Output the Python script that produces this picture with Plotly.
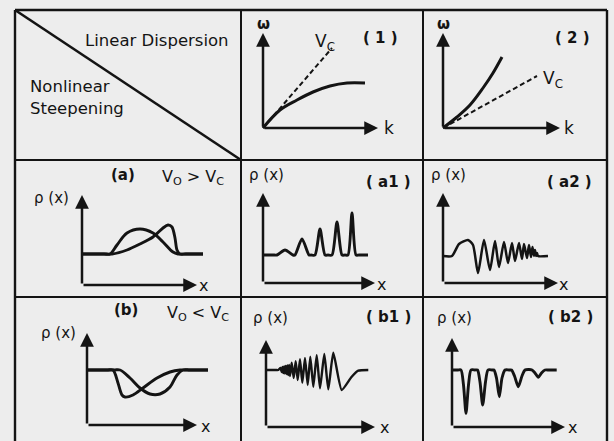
import plotly.graph_objects as go

W, H = 614, 441

# ---------------- data (arbitrary units; origin = each panel's axis corner) ----------------
# (1) dispersion curve bending below the sound-speed line
d1_k = [0, 1.7, 3.4, 5.0, 6.7, 8.4, 10.2]
d1_w = [0, 1.8, 2.8, 3.6, 4.2, 4.5, 4.5]
d1_vc_k = [0, 6.9]
d1_vc_w = [0, 8.0]
# (2) dispersion curve bending above the sound-speed line
d2_k = [0, 1.4, 2.7, 4.0, 5.0, 5.9]
d2_w = [0, 1.1, 2.3, 4.0, 5.5, 7.1]
d2_vc_k = [0, 9.4]
d2_vc_w = [0, 5.2]
# (a) initial hump and steepened hump
a_sym_x = [0, 2.2, 2.8, 3.5, 4.5, 5.8, 7.1, 8.1, 9.1, 9.6, 10.3, 12.1]
a_sym_y = [3.1, 3.1, 3.1, 4.0, 5.2, 5.6, 5.2, 4.3, 3.3, 3.1, 3.1, 3.1]
a_st_x = [0, 2.2, 3.0, 4.5, 5.8, 7.1, 8.1, 8.6, 9.0, 9.3, 9.5, 9.8, 10.4, 12.1]
a_st_y = [3.1, 3.1, 3.1, 3.5, 4.1, 4.8, 5.7, 6.0, 5.8, 4.7, 3.5, 3.1, 3.1, 3.1]
# (a1) train of solitons
a1_x = [0, 1.0, 1.4, 2.2, 3.0, 3.2, 3.9, 4.6, 4.8, 5.2, 5.7, 6.2, 6.5, 6.9, 7.4, 7.9, 8.2, 8.5, 8.9, 9.3, 9.6, 10.5]
a1_y = [2.8, 2.8, 2.8, 3.3, 2.8, 2.8, 4.4, 2.8, 2.8, 2.8, 5.4, 2.8, 2.8, 2.8, 6.1, 2.8, 2.8, 2.8, 7.0, 2.8, 2.8, 2.8]
# (a2) oscillatory (dispersive) shock
a2_x = [0, 0.9, 1.6, 2.5, 3.0, 3.5, 4.1, 4.7, 5.2, 5.6, 6.1, 6.5, 6.9, 7.2, 7.6, 7.9, 8.1, 8.4, 8.6, 8.8,
        8.95, 9.1, 9.2, 9.3, 9.4, 9.5, 10.5]
a2_y = [2.7, 2.7, 3.9, 4.3, 3.8, 1.0, 4.3, 1.3, 4.2, 1.6, 4.1, 2.0, 4.0, 2.2, 4.0, 2.4, 3.9, 2.5, 3.8, 2.6,
        3.6, 2.7, 3.3, 2.7, 3.0, 2.7, 2.7]
# (b) initial dip and steepened dip
b_st_x = [0, 2.0, 2.6, 3.1, 3.5, 3.8, 4.6, 5.6, 7.0, 8.3, 9.3, 10.0, 12.1]
b_st_y = [5.5, 5.5, 5.5, 4.2, 3.0, 2.8, 3.0, 3.7, 4.7, 5.3, 5.5, 5.5, 5.5]
b_sym_x = [0, 2.7, 3.3, 4.3, 5.3, 6.3, 7.3, 8.3, 9.0, 9.6, 10.3, 12.1]
b_sym_y = [5.5, 5.5, 5.5, 4.7, 3.7, 3.1, 3.1, 3.8, 5.0, 5.5, 5.5, 5.5]
# (b1) oscillatory shock (rarefaction side)
b1_x = [0, 1.0, 1.23, 1.45, 1.57, 1.65, 1.73, 1.82, 1.9, 1.98, 2.07, 2.15, 2.23, 2.31, 2.4, 2.57, 2.77,
        2.97, 3.17, 3.4, 3.63, 3.9, 4.17, 4.43, 4.73, 5.07, 5.4, 5.83, 6.23, 6.73, 7.57, 8.57, 9.23, 10.23]
b1_y = [5.7, 5.7, 5.7, 5.9, 5.5, 6.0, 5.4, 6.05, 5.35, 6.1, 5.3, 6.15, 5.2, 6.2, 5.1, 6.43, 4.9,
        6.57, 4.7, 6.77, 4.43, 6.9, 4.2, 7.03, 4.03, 7.17, 3.87, 7.3, 3.77, 7.43, 3.7, 5.03, 5.63, 5.7]
# (b2) train of dark solitons
b2_x = [0, 0.6, 0.9, 1.15, 1.4, 1.65, 1.9, 2.3, 2.55, 2.8, 3.07, 3.35, 3.6, 4.0, 4.2, 4.45, 4.73, 5.0,
        5.3, 5.7, 5.95, 6.25, 6.63, 7.0, 7.3, 7.7, 8.0, 8.3, 8.63, 8.95, 9.3, 9.7, 10.47]
b2_y = [5.7, 5.7, 5.7, 4.2, 1.37, 4.2, 5.7, 5.7, 5.7, 4.5, 2.2, 4.5, 5.7, 5.7, 5.7, 4.9, 3.03, 4.9,
        5.7, 5.7, 5.7, 5.1, 4.03, 5.1, 5.7, 5.75, 5.7, 5.4, 4.97, 5.4, 5.7, 5.7, 5.7]

# ---------------- layout helpers ----------------
INK = "#141414"
BG = "#ededed"
FONT = "DejaVu Sans"
XR = [-3, 14]
YR = [-1, 11.5]
UNIT = 10.0  # px per data unit

def px(x):
    return x / W

def py(y):
    return 1 - y / H

# panel: name -> (origin x px, origin y px, x-arrow length, y-arrow length)
panels = {
    "p1": (263, 128, 11.5, 9.5),
    "p2": (443, 128, 11.7, 9.5),
    "a": (82, 285, 11.5, 9.0),
    "a1": (263, 283, 11.2, 9.0),
    "a2": (443, 283, 11.5, 9.0),
    "b": (87, 425, 11.0, 9.2),
    "b1": (266, 427, 10.9, 8.7),
    "b2": (452, 427, 11.3, 8.9),
}

fig = go.Figure()
axis_ids = {}
layout_axes = {}
annotations = []
for i, (name, (ox, oy, xl, yl)) in enumerate(panels.items(), start=1):
    xid = "x" if i == 1 else f"x{i}"
    yid = "y" if i == 1 else f"y{i}"
    axis_ids[name] = (xid, yid)
    xkey = "xaxis" if i == 1 else f"xaxis{i}"
    ykey = "yaxis" if i == 1 else f"yaxis{i}"
    layout_axes[xkey] = dict(
        domain=[px(ox + XR[0] * UNIT), px(ox + XR[1] * UNIT)], range=XR,
        visible=False, fixedrange=True, anchor=yid)
    layout_axes[ykey] = dict(
        domain=[py(oy - YR[0] * UNIT), py(oy - YR[1] * UNIT)], range=YR,
        visible=False, fixedrange=True, anchor=xid)
    for (tx, ty) in [(xl, 0), (0, yl)]:
        annotations.append(dict(
            x=tx, y=ty, ax=0, ay=0, xref=xid, yref=yid, axref=xid, ayref=yid,
            text="", showarrow=True, arrowhead=2, arrowsize=1.1, arrowwidth=2.5,
            arrowcolor=INK))


def curve(name, xs, ys, dash="solid", width=2.9, smooth=1.0, shape="spline"):
    xid, yid = axis_ids[name]
    fig.add_trace(go.Scatter(
        x=xs, y=ys, xaxis=xid, yaxis=yid, mode="lines", hoverinfo="skip",
        line=dict(color=INK, width=width, dash=dash, shape=shape, smoothing=smooth),
        showlegend=False))


curve("p1", d1_k, d1_w, smooth=1.0, width=3)
curve("p1", d1_vc_k, d1_vc_w, dash="5px,3px", width=2, shape="linear")
curve("p2", d2_k, d2_w, smooth=1.0, width=3)
curve("p2", d2_vc_k, d2_vc_w, dash="5px,3px", width=2, shape="linear")
curve("a", a_sym_x, a_sym_y, smooth=1.0)
curve("a", a_st_x, a_st_y, smooth=0.8)
curve("a1", a1_x, a1_y, smooth=0.7)
curve("a2", a2_x, a2_y, smooth=0.6, width=2.5)
curve("b", b_st_x, b_st_y, smooth=0.9)
curve("b", b_sym_x, b_sym_y, smooth=1.0)
curve("b1", b1_x, b1_y, smooth=0.5, width=2.4)
curve("b2", b2_x, b2_y, smooth=0.7)


def label(text, x, y, size=15, bold=False, xanchor="center"):
    if bold:
        text = f"<b>{text}</b>"
    annotations.append(dict(
        x=px(x), y=py(y), xref="paper", yref="paper", text=text, showarrow=False,
        xanchor=xanchor, yanchor="middle", font=dict(family=FONT, size=size, color=INK)))


# header cell
label("Linear Dispersion", 157, 40, size=16.5)
label("Nonlinear", 28, 86, size=16.5, xanchor="left")
label("Steepening", 28, 109, size=16.5, xanchor="left")

# dispersion panels
label("ω", 263, 24, size=15, bold=True)
label("ω", 443, 24, size=15, bold=True)
label("k", 389, 128, size=17)
label("k", 569, 128, size=17)
label("V<sub>C</sub>", 325, 42, size=17)
label("V<sub>C</sub>", 553, 79, size=17)
label("( 1 )", 380, 38, size=15, bold=True)
label("( 2 )", 572, 38, size=15, bold=True)

# density panels
label("(a)", 123, 175, size=15, bold=True)
label("V<sub>O</sub> &gt; V<sub>C</sub>", 193, 177, size=16)
label("(b)", 126, 310, size=15, bold=True)
label("V<sub>O</sub> &lt; V<sub>C</sub>", 198, 313, size=16)
label("( a1 )", 389, 182, size=15, bold=True)
label("( a2 )", 569, 182, size=15, bold=True)
label("( b1 )", 389, 317, size=15, bold=True)
label("( b2 )", 570, 317, size=15, bold=True)
for (x, y) in [(51, 198), (266, 175), (448, 175), (58, 333), (270, 318), (454, 318)]:
    label("ρ (x)", x, y, size=15)
for (x, y) in [(203, 285), (381, 284), (563, 284), (205, 426), (385, 427), (572, 427)]:
    label("x", x, y, size=16)

# table grid
shapes = []
def seg(x0, y0, x1, y1, w=2.4):
    shapes.append(dict(type="line", xref="paper", yref="paper",
                       x0=px(x0), y0=py(y0), x1=px(x1), y1=py(y1),
                       line=dict(color=INK, width=w)))

seg(15, 10, 607, 10)
seg(15, 10, 15, 445)
seg(607, 10, 607, 445)
seg(241, 10, 241, 445, 2)
seg(423, 10, 423, 445, 2)
seg(15, 160, 607, 160, 2)
seg(15, 297, 607, 297, 2)
seg(15, 10, 241, 160, 2.6)

fig.update_layout(
    width=W, height=H, margin=dict(l=0, r=0, t=0, b=0),
    paper_bgcolor=BG, plot_bgcolor="rgba(0,0,0,0)",
    showlegend=False, annotations=annotations, shapes=shapes, **layout_axes)

fig.write_html("out.html", config={"displayModeBar": False})
